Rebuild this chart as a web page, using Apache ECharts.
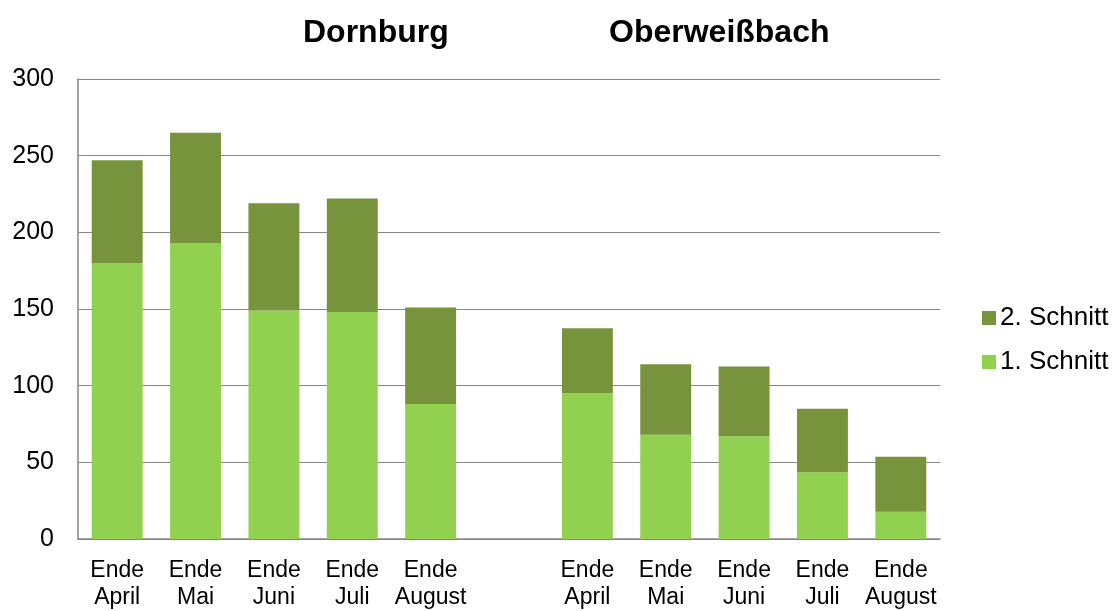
<!DOCTYPE html>
<html>
<head>
<meta charset="utf-8">
<script src="https://cdn.jsdelivr.net/npm/echarts@6/dist/echarts.min.js"></script>
<style>
  html, body { margin: 0; padding: 0; background: #fff; }
  #chart { width: 1114px; height: 611px; }
</style>
</head>
<body>
<div id="chart"></div>
<script>
// categories (the empty slot separates the two sites)
const categories = [
  'Ende\nApril', 'Ende\nMai', 'Ende\nJuni', 'Ende\nJuli', 'Ende\nAugust',
  '',
  'Ende\nApril', 'Ende\nMai', 'Ende\nJuni', 'Ende\nJuli', 'Ende\nAugust'
]
const sites = ['Dornburg', 'Oberweißbach']
const seriesNames = ['1. Schnitt', '2. Schnitt']
const schnitt1 = [180, 193, 149, 148, 88, null, 95, 68, 67, 43.5, 17.7]
const schnitt2 = [67, 72, 70, 74, 63, null, 42.5, 46, 45.5, 41.5, 36]
const yTicks = { min: 0, max: 300, interval: 50 }

const colors = ['#92D050', '#77933C']
const axisGrey = '#878787'
const font = 'Arial, "Liberation Sans", sans-serif'

const chart = echarts.init(document.getElementById('chart'))
chart.setOption({
  animation: false,
  textStyle: { fontFamily: font },
  title: [
    { text: sites[0], left: 298, top: 12, textStyle: { fontSize: 32, fontWeight: 'bold', color: '#000', fontFamily: font } },
    { text: sites[1], left: 604, top: 12, textStyle: { fontSize: 32, fontWeight: 'bold', color: '#000', fontFamily: font } }
  ],
  grid: {
    left: 78,
    right: 174,
    top: 79,
    bottom: 68,
    containLabel: false
  },
  legend: {
    orient: 'vertical',
    left: 977,
    top: 300,
    data: [seriesNames[1], seriesNames[0]],
    icon: 'rect',
    itemWidth: 14,
    itemHeight: 14,
    itemGap: 18,
    textStyle: { fontSize: 26, color: '#000', fontFamily: font, padding: [0, 0, 0, -1] }
  },
  xAxis: {
    type: 'category',
    data: categories,
    axisLine: { show: true, lineStyle: { color: axisGrey, width: 1.5 } },
    axisTick: { show: false },
    axisLabel: {
      color: '#000',
      fontSize: 23,
      lineHeight: 27,
      margin: 18,
      interval: 0
    }
  },
  yAxis: {
    type: 'value',
    min: yTicks.min,
    max: yTicks.max,
    interval: yTicks.interval,
    axisLine: { show: true, lineStyle: { color: axisGrey, width: 1.5 } },
    axisTick: { show: false },
    axisLabel: { color: '#000', fontSize: 25, margin: 24 },
    splitLine: { show: true, lineStyle: { color: axisGrey, width: 1.2 } }
  },
  series: [
    {
      name: seriesNames[0],
      type: 'bar',
      stack: 'total',
      data: schnitt1,
      barCategoryGap: '35%',
      itemStyle: { color: colors[0] }
    },
    {
      name: seriesNames[1],
      type: 'bar',
      stack: 'total',
      data: schnitt2,
      barCategoryGap: '35%',
      itemStyle: { color: colors[1] }
    }
  ]
})
</script>
</body>
</html>
